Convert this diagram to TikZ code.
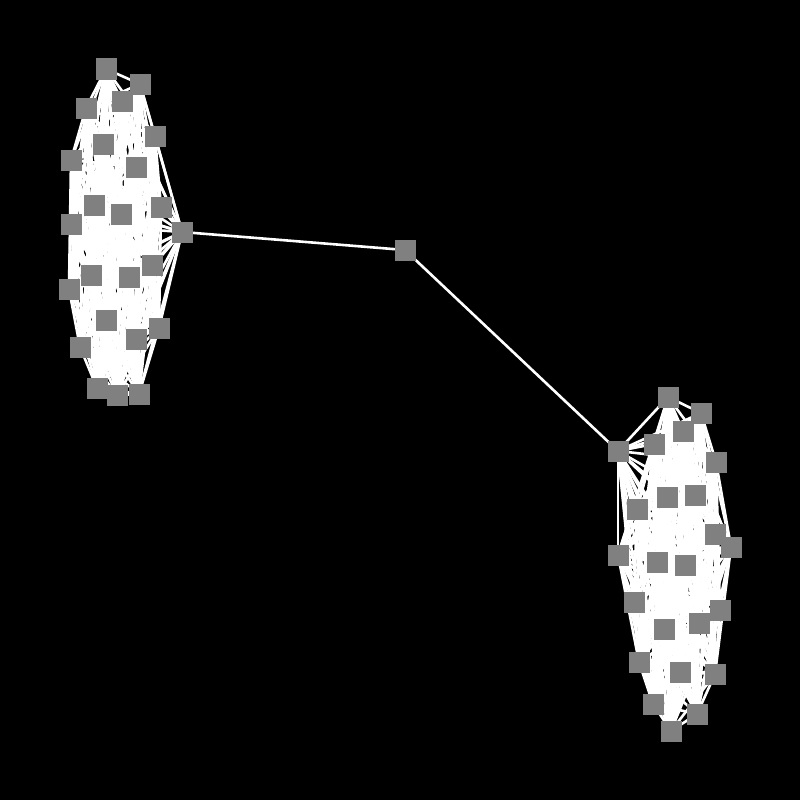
\documentclass[tikz,border=0pt]{standalone}
\usetikzlibrary{positioning}
\pgfdeclarelayer{edges}
\pgfsetlayers{edges,main}

\begin{document}
\begin{tikzpicture}[x=1pt, y=-1pt, every node/.style={rectangle, fill=gray, minimum size=21pt, inner sep=0pt}, link/.style={white, line width=2.6pt}]
          % left clique, a24 is its bridge
          \foreach \i/\x/\y in {1/106/69, 2/140/84, 3/122/101, 4/86/108, 5/155/136, 6/103/144, 7/71/160, 8/136/167,
                                9/94/205, 10/161/207, 11/121/214, 12/71/224, 13/152/265, 14/91/275, 15/129/277, 16/69/289,
                                17/106/320, 18/159/328, 19/136/339, 20/80/347, 21/97/388, 22/139/394, 23/117/395, 24/182/232}
            \node (a\i) at (\x, \y) {};

          % right clique, b1 is its bridge
          \foreach \i/\x/\y in {1/618/451, 2/668/397, 3/701/413, 4/683/431, 5/654/444, 6/716/462, 7/695/495, 8/667/497,
                                9/637/509, 10/715/534, 11/731/547, 12/618/555, 13/657/562, 14/685/565, 15/634/602, 16/720/610,
                                17/699/623, 18/664/629, 19/639/662, 20/680/672, 21/715/674, 22/653/704, 23/697/714, 24/671/731}
            \node (b\i) at (\x, \y) {};

          \node (mid) at (405, 250) {};

          \begin{pgfonlayer}{edges}
            \fill[black] (0, 0) rectangle (800, 800);
            \foreach \i in {1,...,24}
              \foreach \j in {1,...,24} {
                \ifnum\i<\j
                  \draw[link] (a\i.center) -- (a\j.center);
                  \draw[link] (b\i.center) -- (b\j.center);
                \fi
              }
            \draw[link] (a24.center) -- (mid.center) -- (b1.center);
          \end{pgfonlayer}
        \end{tikzpicture}
\end{document}
